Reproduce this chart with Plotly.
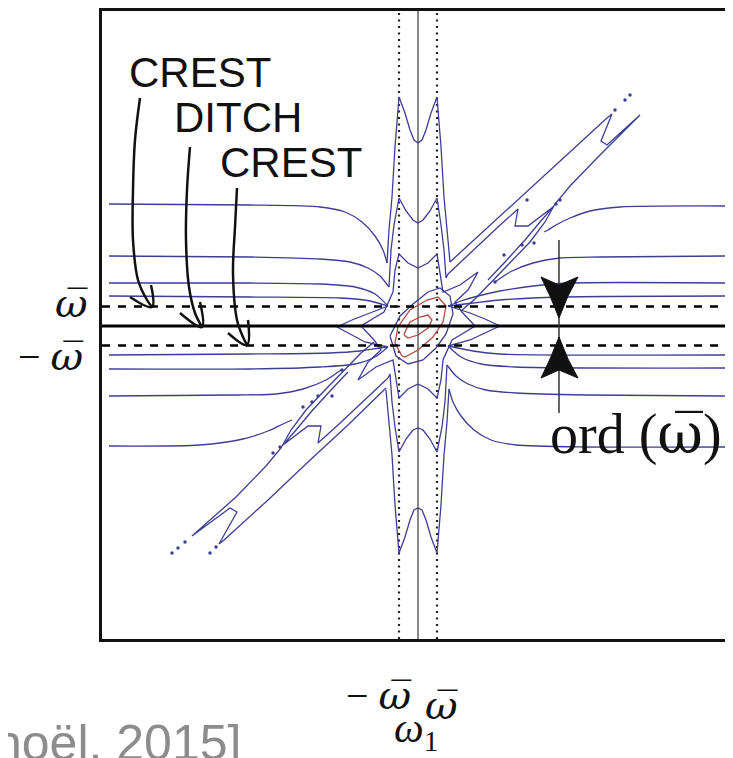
import plotly.graph_objects as go

# ---- axis frame (digitised units, origin at the centre, omega-bar ~ 19 units) ----
WBAR_X = 19
WBAR_Y = 19.5
X_RANGE = [-316, 315]
Y_RANGE = [-313, 315]

# ---- blue contour lines, upper half ----
L1_X = [-309, -168, -98, -73, -56, -43, -35, -31]
L1_Y = [122, 121, 119, 114, 104, 90, 76, 63]
M_OUT_X = [-31, -29, -26, -23, -19, -13, -8, -4, 0, 4, 8, 13, 19, 23, 26, 29, 32]
M_OUT_Y = [63, 96, 129, 179, 229, 213, 196, 186, 183, 186, 196, 213, 229, 179, 129, 96, 64]
UR_OUT_X = [32, 70, 110, 150, 189, 194, 183, 189, 222, 182, 152, 137, 127, 112, 92, 72, 57, 44]
UR_OUT_Y = [64, 99, 136, 172, 208, 212, 185, 181, 211, 171, 140, 122, 104, 84, 63, 42, 27, 16]
R1_X = [309, 202, 172, 152, 138, 130, 126]
R1_Y = [120, 119, 115, 108, 101, 96, 94]

L2_X = [-309, -168, -98, -68, -50, -38, -29]
L2_Y = [70, 69, 67, 64, 58, 50, 39]
M_IN_X = [-29, -27, -24, -19, -12, -5, 0, 5, 12, 19, 23, 26, 28, 30]
M_IN_Y = [39, 76, 101, 128, 115, 106, 103, 106, 115, 128, 101, 76, 48, 52]
UR_IN_X = [30, 55, 80, 100, 97, 110, 135, 122, 107, 87, 70]
UR_IN_Y = [52, 76, 99, 117, 100, 100, 119, 104, 86, 64, 46]
R2_X = [309, 182, 142, 115, 92, 77]
R2_Y = [70, 69, 68, 63, 54, 44]

L3_X = [-309, -168, -98, -63, -43, -30]
L3_Y = [43, 43, 42, 39, 32, 20]
L4_X = [-309, -168, -78, -48, -30]
L4_Y = [30, 29, 28, 25, 20]
R3_X = [309, 150, 115, 82, 60, 43, 30]
R3_Y = [43, 43, 40, 35, 30, 25, 20]
R4_X = [309, 142, 82, 55, 30]
R4_Y = [30, 29, 26, 23, 20]

# ---- blue contour lines, lower half ----
R8_X = [309, 168, 98, 73, 56, 43, 35, 31]
R8_Y = [-121, -121, -119, -114, -104, -90, -76, -63]
W_OUT_X = [31, 29, 26, 23, 19, 13, 8, 4, 0, -4, -8, -13, -19, -23, -26, -29, -32]
W_OUT_Y = [-63, -96, -129, -179, -227, -211, -194, -184, -182, -184, -194, -211, -227, -179, -129, -96, -64]
LL_OUT_X = [-32, -70, -110, -150, -194, -199, -181, -188, -226, -182, -152, -137, -127, -112, -92, -72, -57, -44]
LL_OUT_Y = [-62, -99, -136, -174, -214, -218, -186, -182, -210, -171, -140, -122, -104, -84, -63, -42, -27, -16]
L8_X = [-309, -218, -175, -150, -135, -126]
L8_Y = [-120, -119, -113, -105, -98, -94]

R7_X = [309, 168, 98, 68, 50, 38, 29]
R7_Y = [-70, -69, -67, -64, -58, -50, -39]
W_IN_X = [29, 27, 24, 19, 12, 5, 0, -5, -12, -19, -23, -26, -28, -30]
W_IN_Y = [-39, -76, -101, -126, -113, -104, -102, -104, -113, -126, -101, -76, -48, -52]
LL_IN_X = [-30, -55, -80, -100, -97, -110, -135, -122, -107, -87, -70]
LL_IN_Y = [-52, -76, -99, -117, -100, -100, -119, -104, -86, -64, -46]
L7_X = [-309, -182, -142, -115, -92, -77]
L7_Y = [-70, -69, -68, -63, -54, -44]

L5_X = [-309, -168, -88, -58, -38, -30]
L5_Y = [-29, -28, -27, -25, -22, -21]
L6_X = [-309, -168, -98, -63, -43, -30]
L6_Y = [-43, -43, -41, -38, -31, -21]
R5_X = [309, 82, 55, 30]
R5_Y = [-29, -28, -25, -20]
R6_X = [309, 98, 63, 43, 30]
R6_Y = [-42, -41, -38, -31, -20]

# ---- central lobes and stars ----
LOBE_L_X = [-30, -48, -66, -81, -68, -53, -30]
LOBE_L_Y = [20, 13, 6, -1, -8, -16, -21]
LOBE_R_X = [30, 52, 67, 82, 67, 52, 30]
LOBE_R_Y = [20, 13, 7, 0, -7, -14, -20]
STAR3_X = [-25, -23, -19, -10, 0, 10, 19, 22, 25, 42, 60, 50, 37, 44, 57, 44, 34, 25, 23, 19,
           10, 0, -10, -19, -22, -25, -42, -60, -50, -37, -44, -57, -44, -34, -25]
STAR3_Y = [34, 56, 72, 63, 58, 63, 72, 54, 34, 41, 54, 36, 24, 14, 0, -8, -14, -34, -54, -72,
           -63, -58, -63, -72, -54, -34, -41, -54, -36, -24, -14, 0, 8, 14, 34]
STAR4_X = [-28, -18, -5, 10, 22, 32, 35, 28, 18, 5, -10, -22, -28]
STAR4_Y = [-10, 10, 22, 34, 38, 30, 12, -8, -22, -34, -38, -30, -10]

# ---- red contours ----
RED_OUT_X = [-16, -23, -20, -8, 9, 20, 28, 25, 15, 0, -13, -16]
RED_OUT_Y = [-30, -17, -1, 16, 26, 29, 20, 4, -11, -24, -31, -30]
RED_IN_X = [-14, -13, -8, 2, 10, 14, 10, 0, -10, -14]
RED_IN_Y = [-9, -6, 4, 9, 11, 6, -2, -9, -12, -9]

# ---- isolated dots along the diagonal ----
DOT_X = [86, 104, 116, 138, 142, 197, 207, 212, 109, 77,
         -246, -240, -233, -208, -202, -145, -138, -115, -106, -100, -86, -76]
DOT_Y = [71, 81, 83, 122, 126, 216, 226, 231, 126, 44,
         -227, -222, -216, -227, -221, -127, -121, -81, -76, -70, -70, -44]

# ---- annotation arrows (CREST / DITCH / CREST) ----
ARROW1_X = [-278, -283, -285, -285, -280, -271, -266]
ARROW1_Y = [228, 186, 136, 86, 46, 26, 19]
HEAD1_X = [-288, -266, -267]
HEAD1_Y = [29, 19, 41]
ARROW2_X = [-228, -231, -232, -229, -223, -216]
ARROW2_Y = [179, 136, 86, 39, 13, -1]
HEAD2_X = [-238, -216, -218]
HEAD2_Y = [13, -1, 24]
ARROW3_X = [-181, -183, -185, -181, -175, -171]
ARROW3_Y = [138, 99, 53, 6, -11, -19]
HEAD3_X = [-190, -171, -170]
HEAD3_Y = [-7, -19, 6]

# ---- ord(omega-bar) marker ----
ORD_X = 141
ORD_LINE_Y = [86, -87]
TRI_UP_X = [123, 132, 141, 150, 160, 141, 123]
TRI_UP_Y = [49, 30, 8, 30, 49, 41, 49]
TRI_DN_X = [123, 132, 141, 150, 160, 141, 123]
TRI_DN_Y = [-52, -33, -11, -33, -52, -44, -52]

BLUE = "#3d3d96"
RED = "#b04a42"

fig = go.Figure()


def add_line(xs, ys, color=BLUE, width=1.3, dash=None, smooth=False):
    fig.add_trace(go.Scatter(x=xs, y=ys, mode="lines",
                             line=dict(color=color, width=width, dash=dash,
                                       shape="spline" if smooth else "linear",
                                       smoothing=0.7 if smooth else None),
                             hoverinfo="skip", showlegend=False))


# reference lines
add_line([0, 0], Y_RANGE, color="#6a6a6a", width=1.6)
add_line([-WBAR_X, -WBAR_X], Y_RANGE, color="#222", width=2.2, dash="2px,4.5px")
add_line([WBAR_X, WBAR_X], Y_RANGE, color="#222", width=2.2, dash="2px,4.5px")

smooth_lines = [
    (L1_X, L1_Y), (R1_X, R1_Y), (L2_X, L2_Y), (R2_X, R2_Y),
    (L3_X, L3_Y), (L4_X, L4_Y), (R3_X, R3_Y), (R4_X, R4_Y),
    (R8_X, R8_Y), (L8_X, L8_Y), (R7_X, R7_Y), (L7_X, L7_Y),
    (L5_X, L5_Y), (L6_X, L6_Y), (R5_X, R5_Y), (R6_X, R6_Y),
]
for xs, ys in smooth_lines:
    add_line(xs, ys, smooth=True)

sharp_lines = [
    (M_OUT_X, M_OUT_Y), (UR_OUT_X, UR_OUT_Y), (M_IN_X, M_IN_Y), (UR_IN_X, UR_IN_Y),
    (W_OUT_X, W_OUT_Y), (LL_OUT_X, LL_OUT_Y), (W_IN_X, W_IN_Y), (LL_IN_X, LL_IN_Y),
    (LOBE_L_X, LOBE_L_Y), (LOBE_R_X, LOBE_R_Y), (STAR3_X, STAR3_Y), (STAR4_X, STAR4_Y),
]
for xs, ys in sharp_lines:
    add_line(xs, ys)

add_line(RED_OUT_X, RED_OUT_Y, color=RED)
add_line(RED_IN_X, RED_IN_Y, color=RED)

fig.add_trace(go.Scatter(x=DOT_X, y=DOT_Y, mode="markers",
                         marker=dict(color=BLUE, size=3.5),
                         hoverinfo="skip", showlegend=False))

# horizontal reference lines (drawn over contours)
add_line(X_RANGE, [0, 0], color="#000", width=3)
add_line(X_RANGE, [WBAR_Y, WBAR_Y], color="#000", width=2.6, dash="8px,8px")
add_line(X_RANGE, [-WBAR_Y, -WBAR_Y], color="#000", width=2.6, dash="8px,8px")

# arrows
for xs, ys in [(ARROW1_X, ARROW1_Y), (HEAD1_X, HEAD1_Y), (ARROW2_X, ARROW2_Y),
               (HEAD2_X, HEAD2_Y), (ARROW3_X, ARROW3_Y), (HEAD3_X, HEAD3_Y)]:
    fig.add_trace(go.Scatter(x=xs, y=ys, mode="lines", line=dict(color="#111", width=2.5),
                             line_shape="spline", hoverinfo="skip", showlegend=False))

add_line([ORD_X, ORD_X], ORD_LINE_Y, color="#333", width=1.5)
for xs, ys in [(TRI_UP_X, TRI_UP_Y), (TRI_DN_X, TRI_DN_Y)]:
    fig.add_trace(go.Scatter(x=xs, y=ys, mode="lines", fill="toself", fillcolor="#111",
                             line=dict(color="#111", width=1), hoverinfo="skip", showlegend=False))

sans = "Liberation Sans, Arial, sans-serif"
serif = "Liberation Serif, Times New Roman, serif"
OMB = "<span style='font-family:DejaVu Serif'><i>ω\u0305</i></span>"

# texts inside the plot (data coordinates)
inner_texts = [
    ("CREST", -218, 254, 42, sans),
    ("DITCH", -180, 209, 42, sans),
    ("CREST", -127, 164, 42, sans),
    ("ord (" + "<span style='font-family:DejaVu Serif'>ω\u0305</span>" + ")", 218, -107, 56, serif),
]
for txt, x, y, size, fam in inner_texts:
    fig.add_annotation(x=x, y=y, xref="x", yref="y", text=txt, showarrow=False,
                       xanchor="center", yanchor="middle",
                       font=dict(family=fam, size=size, color="#111"))

# texts outside the plot (paper coordinates)
outer_texts = [
    ("− " + OMB, 0.438, -0.089, 40, serif, "#111", "center"),
    (OMB, 0.538, -0.105, 40, serif, "#111", "center"),
    ("<i>ω</i><sub>1</sub>", 0.498, -0.146, 42, serif, "#111", "center"),
    (OMB, -0.049, 0.535, 40, serif, "#111", "center"),
    ("− " + OMB, -0.082, 0.451, 40, serif, "#111", "center"),
    ("noël, 2015]", 0.2235, -0.166, 50, sans, "#8c8c8c", "right"),
]
for txt, x, y, size, fam, col, anchor in outer_texts:
    fig.add_annotation(x=x, y=y, xref="paper", yref="paper", text=txt, showarrow=False,
                       xanchor=anchor, yanchor="middle",
                       font=dict(family=fam, size=size, color=col))

# page body has an 8px default margin, so the figure is 8px smaller than the window
fig.update_layout(
    width=725, height=750,
    margin=dict(l=94, r=0, t=3, b=119, autoexpand=False),
    paper_bgcolor="white", plot_bgcolor="white",
    xaxis=dict(range=X_RANGE, showgrid=False, zeroline=False, showticklabels=False,
               ticks="", showline=True, linecolor="#111", linewidth=2.5, mirror=True),
    yaxis=dict(range=Y_RANGE, showgrid=False, zeroline=False, showticklabels=False,
               ticks="", showline=True, linecolor="#111", linewidth=2.5, mirror=False),
)

fig.write_html("out.html")
